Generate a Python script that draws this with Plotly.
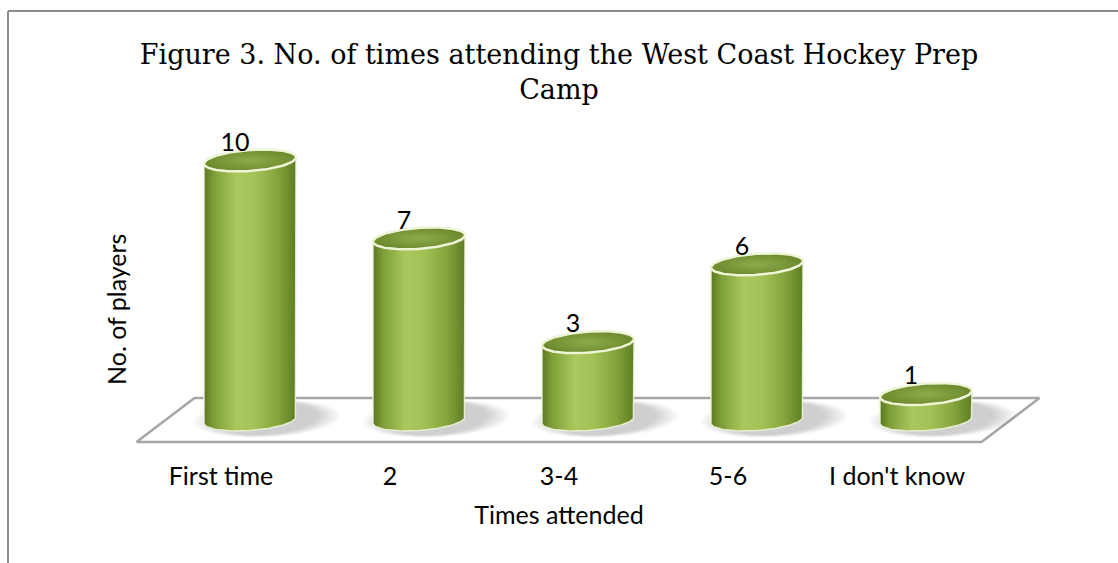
import numpy as np
import plotly.graph_objects as go

# ---------------- data ----------------
categories = ["First time", "2", "3-4", "5-6", "I don't know"]
players = [10, 7, 3, 6, 1]
x_title = "Times attended"
y_title = "No. of players"
chart_title = "Figure 3. No. of times attending the West Coast Hockey Prep<br>Camp"

# ---------------- geometry / style ----------------
W, H = 1118, 563
PLOT_BOTTOM_PX = 446          # bottom edge of plot area in pixels
PX_X = 169.0                  # pixels per category
PX_Y = 25.95                  # pixels per player
X0_PX = 221.0                 # pixel of category 0 (front edge, tick labels)
Y0_PX = 420.0                 # pixel of value 0 (cylinder base centre)

DEPTH = 29.0 / PX_X           # shift from front of floor to cylinder centre
R = 46.0 / PX_X               # cylinder half width (x units)
EH = 10.5 / PX_Y              # ellipse half height (y units)
TILT = 0.45                   # ellipse tilt (y units per x unit)
FLOOR_HALF = 22.0 / PX_Y      # floor half depth (y units)

FONT = "Lato"
TXT = 25

x_range = [(0 - X0_PX) / PX_X, (W - X0_PX) / PX_X]
y_range = [-(PLOT_BOTTOM_PX - Y0_PX) / PX_Y, Y0_PX / PX_Y]

body_scale = [[0.0, "#5a7720"], [0.1, "#7c9c36"], [0.35, "#a9c95e"],
              [0.55, "#a3c358"], [0.8, "#84a43c"], [1.0, "#5f7d24"]]
top_scale = [[0.0, "#8eab4c"], [1.0, "#6d8a2e"]]

fig = go.Figure()

n = len(categories)

# floor
fx = [-0.5, n - 0.5, n - 0.5 + 2 * DEPTH, -0.5 + 2 * DEPTH, -0.5]
fy = [-FLOOR_HALF, -FLOOR_HALF, FLOOR_HALF, FLOOR_HALF, -FLOOR_HALF]
fig.add_trace(go.Scatter(x=fx, y=fy, mode="lines", fill="toself",
                         fillcolor="#ffffff", line=dict(color="#a6a6a6", width=2.5),
                         hoverinfo="skip", showlegend=False))

t = np.linspace(0, 2 * np.pi, 120)

# soft shadows
for i, v in enumerate(players):
    c = i + DEPTH
    for k in range(10):
        scale = 1.6 - k * 0.055
        sx = c + 0.10 + R * scale * np.cos(t)
        sy = 0.05 + EH * (0.9 + scale * 0.55) * np.sin(t) + TILT * R * np.cos(t)
        fig.add_trace(go.Scatter(x=sx, y=sy, mode="lines", fill="toself",
                                 fillcolor="rgba(70,70,70,0.028)",
                                 line=dict(width=0, color="rgba(0,0,0,0)"),
                                 hoverinfo="skip", showlegend=False))

# cylinder bodies and tops
for i, v in enumerate(players):
    c = i + DEPTH
    tb = np.linspace(0, -np.pi, 60)
    bx = list(c + R * np.cos(tb))
    by = list(EH * np.sin(tb) + TILT * R * np.cos(tb))
    xs = [c - R, c - R, c + R, c + R] + bx
    ys = [-TILT * R, v - TILT * R, v + TILT * R, TILT * R] + by
    fig.add_trace(go.Scatter(
        x=xs, y=ys, mode="lines", fill="toself",
        fillgradient=dict(type="horizontal", colorscale=body_scale,
                          start=c - R, stop=c + R),
        line=dict(color="rgba(236,242,214,0.9)", width=1.5),
        hoverinfo="skip", showlegend=False))
    ex = c + R * np.cos(t)
    ey = v + EH * np.sin(t) + TILT * R * np.cos(t)
    fig.add_trace(go.Scatter(
        x=ex, y=ey, mode="lines", fill="toself",
        fillgradient=dict(type="radial", colorscale=top_scale),
        line=dict(color="#eef4d6", width=2.5),
        hoverinfo="skip", showlegend=False))

# data labels
fig.add_trace(go.Scatter(
    x=[i + DEPTH - 15.0 / PX_X for i in range(n)],
    y=[v + 16.0 / PX_Y for v in players],
    mode="text", text=[str(v) for v in players],
    textfont=dict(family=FONT, size=TXT, color="#000000"),
    textposition="middle center", hoverinfo="skip", showlegend=False))

# frame lines (top and left)
fig.add_shape(type="line", xref="paper", yref="paper",
              x0=8 / W, x1=1.0, y0=1 - 11 / PLOT_BOTTOM_PX, y1=1 - 11 / PLOT_BOTTOM_PX,
              line=dict(color="#8c8c8c", width=2))
fig.add_shape(type="line", xref="paper", yref="paper",
              x0=8 / W, x1=8 / W, y0=1 - 11 / PLOT_BOTTOM_PX,
              y1=(PLOT_BOTTOM_PX - H) / PLOT_BOTTOM_PX,
              line=dict(color="#8c8c8c", width=2))

# y axis title
fig.add_annotation(text=y_title, xref="paper", yref="paper",
                   x=116 / W, y=1 - 310 / PLOT_BOTTOM_PX, textangle=-90,
                   showarrow=False, xanchor="center", yanchor="middle",
                   font=dict(family=FONT, size=TXT, color="#000000"))

fig.update_layout(
    width=W, height=H,
    margin=dict(l=0, r=0, t=0, b=H - PLOT_BOTTOM_PX),
    paper_bgcolor="white", plot_bgcolor="white",
    title=dict(text=chart_title, x=0.5, xanchor="center",
               y=1 - 64 / H, yanchor="middle", yref="container",
               font=dict(family="DejaVu Serif", size=27, color="#000000")),
    xaxis=dict(range=x_range, tickmode="array", tickvals=list(range(n)),
               ticktext=categories, ticks="outside", ticklen=8,
               tickcolor="rgba(0,0,0,0)", showgrid=False, zeroline=False,
               showline=False, tickfont=dict(family=FONT, size=TXT, color="#000000"),
               title=dict(text=x_title, standoff=17,
                          font=dict(family=FONT, size=TXT, color="#000000")),
               fixedrange=True),
    yaxis=dict(range=y_range, showticklabels=False, showgrid=False,
               zeroline=False, showline=False, ticks="", fixedrange=True),
    showlegend=False,
)

fig.write_html("out.html")
